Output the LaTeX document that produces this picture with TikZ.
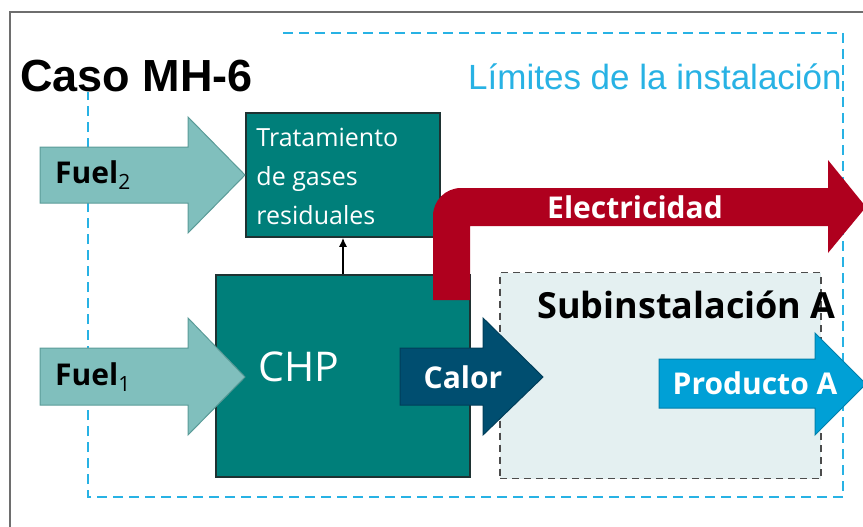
\documentclass[tikz,border=0pt]{standalone}
\usepackage{fontspec}
\setmainfont{Open Sans}
\newfontfamily\arialfont{Liberation Sans}
\usetikzlibrary{positioning,arrows.meta}

\definecolor{chpteal}{RGB}{0,127,122}
\definecolor{boxline}{RGB}{30,50,50}
\definecolor{fuelteal}{RGB}{128,191,189}
\definecolor{fuelline}{RGB}{90,155,152}
\definecolor{elecred}{RGB}{175,0,30}
\definecolor{calorblue}{RGB}{0,78,112}
\definecolor{prodblue}{RGB}{0,160,214}
\definecolor{subfill}{RGB}{228,240,241}
\definecolor{limitcyan}{RGB}{40,178,228}
\definecolor{framegray}{RGB}{110,110,110}

\tikzset{
  tealbox/.style={draw=boxline, fill=chpteal, line width=1.5pt},
  fuelarrow/.style={draw=fuelline, fill=fuelteal, line width=1pt},
  subbox/.style={draw=black!70, fill=subfill, dashed, dash pattern=on 7pt off 5pt, line width=1.5pt},
  limitline/.style={draw=limitcyan, dash pattern=on 10pt off 6pt, line width=1.5pt},
  lbl/.style={font=\bfseries\fontsize{30}{34}\selectfont, inner sep=0pt},
}

\begin{document}
\begin{tikzpicture}[x=1pt,y=-1pt]
    \useasboundingbox (0,0) rectangle (863,527);
    \draw[framegray, line width=2pt] (10,540) -- (10,12) -- (880,12);
    \draw[limitline] (283,33) -- (843,33) -- (843,497) -- (88,497) -- (88,92);
    \node (caso) at (20,76) [anchor=west, inner sep=0pt, font=\arialfont\bfseries\fontsize{45}{50}\selectfont] {Caso MH-6};
    \node (limites) at (468,77) [anchor=west, inner sep=0pt, text=limitcyan, font=\arialfont\fontsize{35}{40}\selectfont] {Límites de la instalación};

    \node[subbox, minimum width=321pt, minimum height=206pt] (sub) at (660.5,375.5) {};
    \node (subtxt) at (537,305) [anchor=west, inner sep=0pt, font=\bfseries\fontsize{36}{40}\selectfont] {Subinstalación A};

    \node[tealbox, minimum width=194pt, minimum height=124pt] (trat) at (343,175) {};
    \node (trattxt) at (trat.west) [anchor=west, xshift=11pt, yshift=-1pt, inner sep=0pt, align=left, text=white, font=\fontsize{25}{39}\selectfont] {Tratamiento\\de gases\\residuales};
    \node[tealbox, minimum width=254pt, minimum height=202pt] (chp) at (343,376) {};
    \node (chptxt) at (299,367) [text=white, inner sep=0pt, font=\fontsize{41}{44}\selectfont] {CHP};
    \draw[-{Latex[length=9pt,width=8pt]}, line width=1.5pt] (chp.north) -- (trat.south);

    % electricidad
    \fill[elecred] (433,300) [rounded corners=28pt] -- (433,188) [sharp corners] -- (828,188) -- (828,160) -- (866,207) -- (828,253) -- (828,226) -- (470,226) -- (470,300) -- cycle;
    \node (elec) at (635,207) [lbl, text=white] {Electricidad};

    % calor
    \draw[draw=calorblue!80!black, fill=calorblue, line width=1pt] (400,348) -- (483,348) -- (483,318) -- (543,377) -- (483,435) -- (483,405) -- (400,405) -- cycle;
    \node (calor) at (463,377) [lbl, text=white] {Calor};

    % producto
    \draw[draw=prodblue!80!black, fill=prodblue, line width=1pt] (659,359) -- (815,359) -- (815,333) -- (866,384) -- (815,435) -- (815,408) -- (659,408) -- cycle;
    \node (prod) at (755,383) [lbl, text=white] {Producto A};

    % fuels
    \draw[fuelarrow] (40,147) -- (188,147) -- (188,117) -- (245,175) -- (188,233) -- (188,203) -- (40,203) -- cycle;
    \node (fuel2) at (55,175) [anchor=west, lbl] {Fuel\textsubscript{\mdseries 2}};
    \draw[fuelarrow] (40,348) -- (188,348) -- (188,318) -- (245,377) -- (188,435) -- (188,405) -- (40,405) -- cycle;
    \node (fuel1) at (55,377) [anchor=west, lbl] {Fuel\textsubscript{\mdseries 1}};
\end{tikzpicture}
\end{document}
